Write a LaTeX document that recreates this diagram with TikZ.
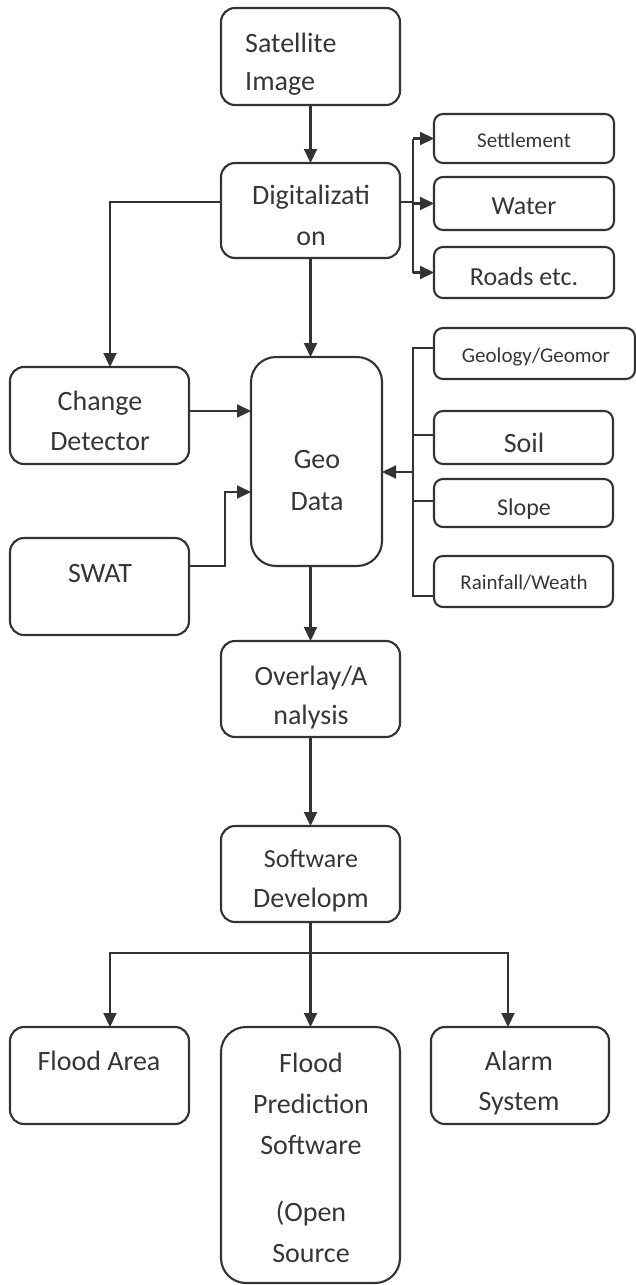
\documentclass[tikz,border=0pt]{standalone}
\usepackage{fontspec}
\setmainfont{Carlito}
\usetikzlibrary{arrows.meta,calc}
\definecolor{ln}{HTML}{333333}
\definecolor{tx}{HTML}{363636}
\begin{document}
\begin{tikzpicture}[x=1pt,y=-1pt,
  box/.style={draw=ln, line width=2.1pt, rounded corners=14pt, inner sep=0pt, outer sep=0pt},
  sbox/.style={box, rounded corners=9pt},
  tbox/.style={box, rounded corners=25pt},
  con/.style={draw=ln, line width=2.1pt},
  arr/.style={con, -{Triangle[length=14pt,width=13pt]}},
  txt/.style={text=tx, inner sep=0pt, anchor=north, align=center, font=\fontsize{28}{41}\selectfont},
  stxt/.style={txt, font=\fontsize{21}{30}\selectfont},
  mtxt/.style={txt, font=\fontsize{26}{38}\selectfont},
]
\useasboundingbox (0,0) rectangle (636,1285);
% boxes
\node[box, minimum width=179pt, minimum height=97pt] (sat) at (310.5,56.5) {};
\node[box, minimum width=179pt, minimum height=95pt] (dig) at (310.5,210.5) {};
\node[sbox, minimum width=180pt, minimum height=49pt] (set) at (524,138.5) {};
\node[sbox, minimum width=180pt, minimum height=53pt] (wat) at (524,203.5) {};
\node[sbox, minimum width=180pt, minimum height=51pt] (road) at (524,272.5) {};
\node[box, minimum width=179pt, minimum height=97pt] (chg) at (99.5,415.5) {};
\node[tbox, minimum width=131pt, minimum height=209pt] (geo) at (316.5,461.5) {};
\node[sbox, minimum width=201pt, minimum height=51pt] (geol) at (534.5,353.5) {};
\node[sbox, minimum width=179pt, minimum height=53pt] (soil) at (523.5,437.5) {};
\node[sbox, minimum width=179pt, minimum height=48pt] (slope) at (523.5,503) {};
\node[sbox, minimum width=179pt, minimum height=51pt] (rain) at (523.5,581.5) {};
\node[box, minimum width=179pt, minimum height=97pt] (swat) at (99.5,586.5) {};
\node[box, minimum width=179pt, minimum height=96pt] (ovl) at (310.5,689) {};
\node[box, minimum width=179pt, minimum height=96pt] (sw) at (310.5,874) {};
\node[box, minimum width=179pt, minimum height=97pt] (fa) at (99.5,1075.5) {};
\node[tbox, minimum width=179pt, minimum height=256pt] (fps) at (310.5,1155) {};
\node[box, minimum width=178pt, minimum height=97pt] (alarm) at (520,1075.5) {};
% texts (north = first baseline - 0.7 baselineskip)
\node[txt, anchor=north west, align=left] (tsat) at (245,23.3) {\strut Satellite\\[-3pt]Image};
\node[txt] (tdig) at (311,175.3) {\strut Digitalizati\\on};
\node[stxt] (tset) at (524,126) {\strut Settlement};
\node[mtxt] (twat) at (524,187.4) {\strut Water};
\node[mtxt] (troad) at (524,258.4) {\strut Roads etc.};
\node[txt] (tchg) at (100,381.3) {\strut Change\\[-1pt]Detector};
\node[txt] (tgeo) at (317,439.3) {\strut Geo\\[1pt]Data};
\node[stxt] (tgeol) at (536,341) {\strut Geology/Geomor};
\node[txt] (tsoil) at (524,423.3) {\strut Soil};
\node[txt, font=\fontsize{24}{35}\selectfont] (tslope) at (524,490.5) {\strut Slope};
\node[stxt] (train) at (524,568) {\strut Rainfall/Weath};
\node[txt] (tswat) at (100,553.3) {\strut SWAT};
\node[txt] (tovl) at (311,656.3) {\strut Overlay/A\\[-2pt]nalysis};
\node[txt] (tsw) at (311,838.3) {\strut{\fontsize{26}{38}\selectfont Software}\\[-1pt]Developm};
\node[txt] (tfa) at (99,1041.3) {\strut Flood Area};
\node[txt] (tfps) at (311,1043.3) {\strut Flood\\Prediction\\Software\\[26pt](Open\\Source};
\node[txt] (talarm) at (519,1041.3) {\strut Alarm\\[-1pt]System};
% connectors
\coordinate (b1) at (413,202);
\coordinate (b2) at (413,472);
\coordinate (sw1) at (225,566);
\coordinate (b3) at (310.5,953);
\draw[arr] (sat.south) -- (dig.north);
\draw[con] (dig.east |- b1) -- (b1);
\draw[con] (b1 |- set.west) -- (b1 |- road.west);
\draw[arr] (b1 |- set.west) -- (set.west);
\draw[arr] (b1 |- wat.west) -- (wat.west);
\draw[arr] (b1 |- road.west) -- (road.west);
\draw[arr] (dig.west |- b1) -| ([xshift=10.5pt]chg.north);
\draw[arr] (dig.south) -- (dig.south |- geo.north);
\draw[arr] ([yshift=4.5pt]chg.east) -- ([yshift=4.5pt]chg.east -| geo.west);
\draw[arr] ([yshift=20.5pt]swat.east) -- (sw1) |- ([yshift=-30.5pt]geo.west);
\draw[con] ([yshift=5.5pt]geol.west) -| (b2);
\draw[con] ([yshift=-14.5pt]rain.west) -| (b2);
\draw[con] ([yshift=2.5pt]soil.west) -- ([yshift=2.5pt]soil.west -| b2);
\draw[con] ([yshift=2pt]slope.west) -- ([yshift=2pt]slope.west -| b2);
\draw[arr] (b2) -- (b2 -| geo.east);
\draw[arr] (geo.south -| ovl.north) -- (ovl.north);
\draw[arr] (ovl.south) -- (sw.north);
\draw[con] (sw.south) -- (b3);
\draw[arr] (b3) -| ([xshift=10.5pt]fa.north);
\draw[arr] (b3) -| ([xshift=-12pt]alarm.north);
\draw[arr] (b3) -- (fps.north);
\end{tikzpicture}
\end{document}
